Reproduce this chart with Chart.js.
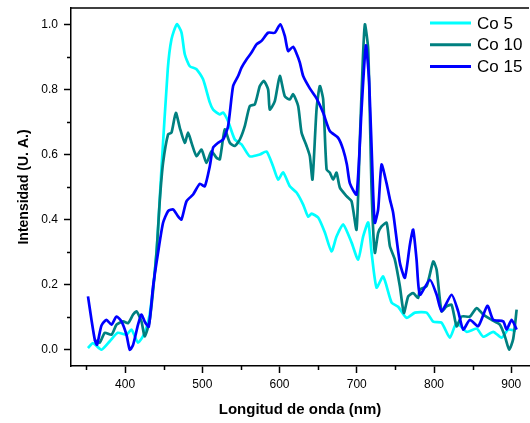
<!DOCTYPE html>
<html>
<head>
<meta charset="utf-8">
<script src="https://cdn.jsdelivr.net/npm/chart.js@4"></script>
<style>
  html, body { margin: 0; padding: 0; background: #fff; }
  #wrap { width: 530px; height: 423px; }
</style>
</head>
<body>
<div id="wrap"><canvas id="spectra" width="530" height="423"></canvas></div>
<script>
// wavelength (nm) / intensity pairs for each sample
var co5_x = [352, 358.5, 369.4, 380.2, 390.5, 401.8, 408.3, 416.8, 425.5, 432, 440.7, 447.1, 455.3, 460.1, 467, 473, 477.3, 483.8, 492.5, 501, 509.7, 514, 522.7, 527, 533.4, 542.1, 550.8, 561.5, 574.5, 583.2, 591.7, 598.2, 604.7, 613.3, 622, 630.6, 637, 641.4, 650, 658.7, 667.3, 673.8, 682.4, 693.3, 701.8, 708.3, 714.8, 719.2, 725.6, 734.2, 745.1, 753.6, 764.5, 775.3, 790.4, 799, 809.8, 820.6, 829.3, 842.2, 855.2, 863.7, 876.7, 887.6, 896.1, 906];
var co5_y = [0.005, 0.02, 0.0, 0.026, 0.052, 0.046, 0.062, 0.022, 0.052, 0.11, 0.30, 0.554, 0.862, 0.954, 1.0, 0.975, 0.908, 0.871, 0.862, 0.831, 0.76, 0.738, 0.723, 0.729, 0.702, 0.646, 0.631, 0.594, 0.60, 0.609, 0.563, 0.523, 0.545, 0.502, 0.483, 0.446, 0.409, 0.418, 0.406, 0.36, 0.302, 0.348, 0.385, 0.329, 0.277, 0.348, 0.391, 0.298, 0.191, 0.225, 0.145, 0.132, 0.098, 0.114, 0.114, 0.086, 0.083, 0.037, 0.083, 0.055, 0.065, 0.04, 0.055, 0.037, 0.062, 0.058];

var co10_x = [360, 367.2, 373.7, 382.4, 388.9, 397.4, 403.9, 410.4, 414.8, 421.2, 425.5, 432, 440.7, 445, 449.2, 455.7, 460.1, 465.7, 470.9, 477.3, 481.6, 486, 492.5, 499, 505.4, 511.9, 518.4, 522.7, 529.1, 535.6, 542.1, 548.6, 555, 561.5, 568, 574.5, 579.7, 585.2, 587.4, 593.9, 600.4, 606.8, 613.3, 617.6, 624.1, 628.5, 635, 639.2, 642.7, 647.9, 652.2, 656.5, 660.9, 665.2, 669.4, 673.8, 678.1, 686.8, 693.3, 699.7, 704, 707.9, 710.5, 714.8, 719.2, 723.4, 727.7, 732.1, 738.6, 742.9, 749.3, 755.8, 761, 766.6, 773, 779.5, 781.7, 790.4, 799, 803.4, 809.8, 816.3, 822.8, 829.3, 835.7, 846.5, 855.2, 863.7, 874.6, 885.3, 891.8, 897.4, 902.6, 907];
var co10_y = [0.031, 0.022, 0.052, 0.046, 0.077, 0.087, 0.082, 0.108, 0.118, 0.087, 0.041, 0.092, 0.298, 0.46, 0.574, 0.662, 0.667, 0.728, 0.682, 0.636, 0.667, 0.636, 0.595, 0.615, 0.574, 0.61, 0.59, 0.585, 0.677, 0.636, 0.626, 0.646, 0.687, 0.749, 0.754, 0.81, 0.826, 0.80, 0.738, 0.764, 0.841, 0.779, 0.769, 0.785, 0.749, 0.667, 0.626, 0.595, 0.523, 0.738, 0.81, 0.769, 0.554, 0.544, 0.523, 0.544, 0.498, 0.472, 0.456, 0.369, 0.646, 0.892, 1.0, 0.923, 0.492, 0.298, 0.359, 0.379, 0.39, 0.318, 0.277, 0.195, 0.113, 0.164, 0.174, 0.159, 0.185, 0.195, 0.271, 0.246, 0.118, 0.133, 0.138, 0.072, 0.102, 0.102, 0.128, 0.108, 0.092, 0.077, 0.041, 0.0, 0.034, 0.123];

var co15_x = [352, 356.5, 360.8, 363.7, 369.4, 375.9, 382.4, 388.9, 395.3, 401.8, 406.1, 410.4, 416.8, 421.2, 425.5, 430.7, 436.3, 442.7, 449.2, 455.7, 462.2, 468.6, 473, 479.5, 488.1, 496.8, 503.2, 509.7, 514, 520.5, 527, 533.4, 539.9, 546.4, 550.8, 557.2, 563.7, 570.2, 576.7, 585.2, 593.9, 601, 606.8, 611.1, 617.6, 622.4, 626.3, 630.6, 639.2, 647.9, 656.5, 665.1, 675.9, 682.4, 687.2, 691.1, 699.7, 706.2, 711.8, 716.1, 721.2, 723.4, 727.7, 732.1, 738.6, 742.9, 747.1, 755.8, 762.3, 768.8, 773, 777.4, 781.7, 794.7, 803.4, 809.8, 822.8, 831.3, 837.8, 846.5, 857.2, 869.2, 876.7, 889.6, 894, 900.5, 907];
var co15_y = [0.164, 0.092, 0.031, 0.015, 0.074, 0.092, 0.077, 0.102, 0.087, 0.046, 0.0, 0.015, 0.077, 0.108, 0.086, 0.071, 0.195, 0.298, 0.39, 0.426, 0.431, 0.41, 0.40, 0.456, 0.477, 0.51, 0.502, 0.564, 0.621, 0.636, 0.646, 0.687, 0.81, 0.841, 0.867, 0.892, 0.913, 0.938, 0.949, 0.974, 0.974, 1.0, 0.964, 0.918, 0.931, 0.908, 0.882, 0.841, 0.803, 0.772, 0.728, 0.672, 0.651, 0.615, 0.569, 0.511, 0.477, 0.738, 0.935, 0.821, 0.483, 0.39, 0.431, 0.569, 0.511, 0.462, 0.421, 0.267, 0.221, 0.323, 0.369, 0.277, 0.169, 0.215, 0.169, 0.118, 0.169, 0.118, 0.062, 0.092, 0.072, 0.135, 0.092, 0.087, 0.062, 0.092, 0.062];

var series_names = ['Co 5', 'Co 10', 'Co 15'];
var series_colors = ['#00FFFF', '#008080', '#0000FF'];
var x_ticks = [400, 500, 600, 700, 800, 900];
var y_ticks = [0.0, 0.2, 0.4, 0.6, 0.8, 1.0];
var x_minor = [350, 450, 550, 650, 750, 850];
var y_minor = [0.1, 0.3, 0.5, 0.7, 0.9];

function pairs(xs, ys) {
    return xs.map(function(x, i) { return {x: x, y: ys[i]}; });
}

var FONT = "'Liberation Sans', Arial, sans-serif";

// minor ticks, top frame line and the legend box
var extras = {
    id: 'extras',
    afterDraw: function(chart) {
        var ctx = chart.ctx;
        var xs = chart.scales.x, ys = chart.scales.y;
        var area = chart.chartArea;
        ctx.save();
        ctx.strokeStyle = '#000';
        ctx.lineWidth = 1.5;
        ctx.beginPath();
        x_minor.forEach(function(v) {
            var px = Math.round(xs.getPixelForValue(v)) + 0.5;
            ctx.moveTo(px, area.bottom);
            ctx.lineTo(px, area.bottom + 4);
        });
        y_minor.forEach(function(v) {
            var py = Math.round(ys.getPixelForValue(v)) + 0.5;
            ctx.moveTo(area.left, py);
            ctx.lineTo(area.left - 4, py);
        });
        ctx.moveTo(area.left, area.top);
        ctx.lineTo(area.right, area.top);
        ctx.stroke();

        // legend
        ctx.font = '17px ' + FONT;
        ctx.textBaseline = 'middle';
        chart.data.datasets.forEach(function(ds, i) {
            var y = 23 + i * 21.8;
            ctx.strokeStyle = ds.borderColor;
            ctx.lineWidth = 3;
            ctx.beginPath();
            ctx.moveTo(430, y);
            ctx.lineTo(471, y);
            ctx.stroke();
            ctx.fillStyle = '#000';
            ctx.fillText(ds.label, 477, y + 1);
        });
        ctx.restore();
    }
};

var datasets = [
    {label: series_names[0], data: pairs(co5_x, co5_y), borderColor: series_colors[0], order: 3},
    {label: series_names[1], data: pairs(co10_x, co10_y), borderColor: series_colors[1], order: 2},
    {label: series_names[2], data: pairs(co15_x, co15_y), borderColor: series_colors[2], order: 1}
];
datasets.forEach(function(d) {
    d.borderWidth = 2.7;
    d.pointRadius = 0;
    d.tension = 0.2;
    d.fill = false;
});

var ctx = document.getElementById('spectra');
var myChart = new Chart(ctx, {
    type: 'line',
    data: { datasets: datasets },
    plugins: [extras],
    options: {
        responsive: false,
        animation: false,
        layout: { padding: { top: 8, right: 1, left: 0, bottom: 0 } },
        plugins: {
            legend: { display: false },
            tooltip: { enabled: false }
        },
        scales: {
            x: {
                type: 'linear',
                min: 330,
                max: 923,
                border: { color: '#000', width: 1.5 },
                grid: { drawOnChartArea: false, tickLength: 7, color: '#000', tickWidth: 1.5 },
                ticks: {
                    color: '#000',
                    padding: 4,
                    autoSkip: false,
                    maxRotation: 0,
                    font: { family: FONT, size: 12 },
                    callback: function(v) { return String(v); }
                },
                afterBuildTicks: function(scale) {
                    scale.ticks = x_ticks.map(function(v) { return {value: v}; });
                },
                title: {
                    display: true,
                    text: 'Longitud de onda (nm)',
                    color: '#000',
                    font: { family: FONT, size: 15, weight: 'bold' },
                    padding: { top: 4 }
                },
                afterFit: function(scale) {
                    scale.height = 57;
                    scale.paddingLeft = 0;
                    scale.paddingRight = 0;
                }
            },
            y: {
                min: -0.05,
                max: 1.05,
                border: { color: '#000', width: 1.5 },
                grid: { drawOnChartArea: false, tickLength: 7, color: '#000', tickWidth: 1.5 },
                ticks: {
                    color: '#000',
                    padding: 6,
                    autoSkip: false,
                    font: { family: FONT, size: 12 },
                    callback: function(v) { return v.toFixed(1); }
                },
                afterBuildTicks: function(scale) {
                    scale.ticks = y_ticks.map(function(v) { return {value: v}; });
                },
                title: {
                    display: true,
                    text: 'Intensidad (U. A.)',
                    color: '#000',
                    font: { family: FONT, size: 14, weight: 'bold' },
                    padding: { top: 16, bottom: 0 }
                },
                afterFit: function(scale) {
                    scale.width = 71;
                    scale.paddingTop = 0;
                    scale.paddingBottom = 0;
                }
            }
        }
    }
});
</script>
</body>
</html>
